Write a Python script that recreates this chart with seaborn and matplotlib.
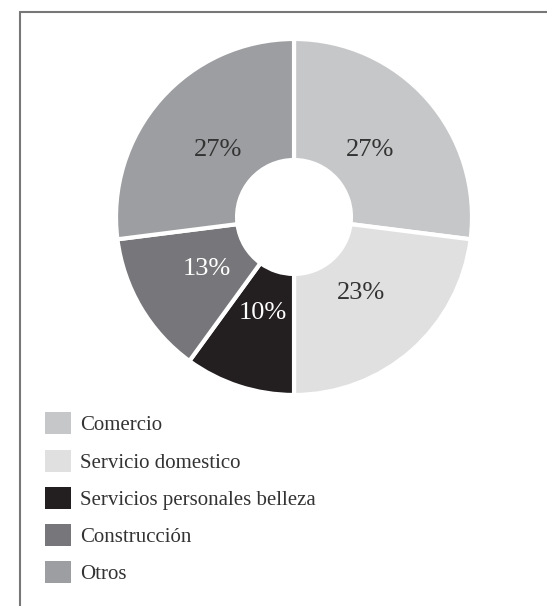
import matplotlib
matplotlib.use("Agg")
import matplotlib.pyplot as plt
import seaborn as sns
from matplotlib.lines import Line2D
from matplotlib.patches import Patch

categorias = ["Comercio", "Servicio domestico", "Servicios personales belleza",
              "Construcción", "Otros"]
porcentajes = [27, 23, 10, 13, 27]
colores = ["#c6c7c8", "#e0e0e1", "#231f20", "#77777b", "#9d9ea1"]
color_texto = ["#333333", "#333333", "#ffffff", "#ffffff", "#333333"]

sns.set_theme(style="white")
plt.rcParams["font.family"] = ["Liberation Serif", "DejaVu Serif"]

fig = plt.figure(figsize=(5.47, 6.06), dpi=100)
ax = fig.add_axes([0.2121, 0.3482, 0.6508, 0.5875])

wedges, textos = ax.pie(
    porcentajes, colors=colores, startangle=90, counterclock=False,
    radius=1, labels=[f"{p}%" for p in porcentajes], labeldistance=0.57,
    wedgeprops=dict(width=0.68, edgecolor="white", linewidth=3),
    textprops=dict(fontsize=19),
)
for w in wedges:
    w.set_clip_on(False)
for t, c in zip(textos, color_texto):
    t.set_color(c)
    t.set_horizontalalignment("center")
    t.set_verticalalignment("center")
ax.set_xlim(-1, 1)
ax.set_ylim(-1, 1)
ax.set_aspect("equal")
ax.axis("off")

# marco superior e izquierdo
fig.add_artist(Line2D([20 / 547, 1], [1 - 12 / 606, 1 - 12 / 606],
                      transform=fig.transFigure, color="#777777", lw=1.5))
fig.add_artist(Line2D([20 / 547, 20 / 547], [1 - 12 / 606, 0],
                      transform=fig.transFigure, color="#777777", lw=1.5))

handles = [Patch(facecolor=c, edgecolor="none") for c in colores]
fig.legend(handles, categorias, loc="upper left",
           bbox_to_anchor=(37 / 547, 1 - 404 / 606), frameon=False,
           fontsize=15, labelspacing=0.68, handlelength=1.25, handleheight=1.25,
           handletextpad=0.4, borderaxespad=0, labelcolor="#333333")

fig.savefig("out.png", dpi=100)
